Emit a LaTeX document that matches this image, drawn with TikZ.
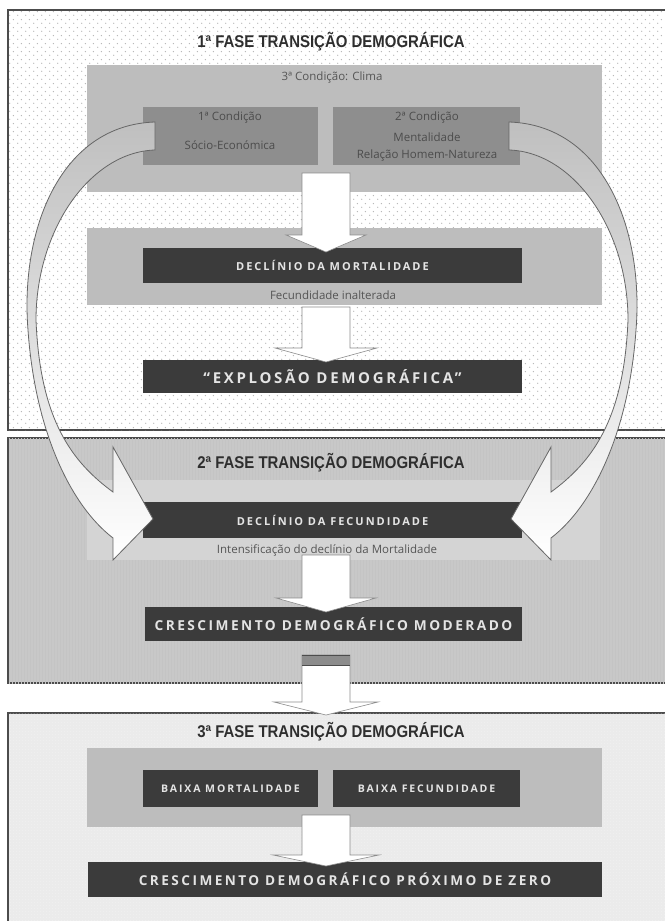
\documentclass[tikz,border=0pt]{standalone}
\usepackage{fontspec}
\setmainfont{Open Sans}
\newfontfamily\titlefont[FakeStretch=0.88]{Liberation Sans}
\newfontfamily\barfont[LetterSpace=18]{Open Sans}
\usetikzlibrary{patterns,patterns.meta}
\definecolor{barcol}{HTML}{3B3B3B}
\definecolor{bartext}{HTML}{E4E4E4}
\definecolor{zonecol}{HTML}{BDBDBD}
\definecolor{condcol}{HTML}{8E8E8E}
\definecolor{notecol}{HTML}{555555}
\definecolor{titlecol}{HTML}{2E2E2E}
\definecolor{midpanel}{HTML}{C8C8C8}
\definecolor{midzone}{HTML}{D4D4D4}
\definecolor{lowpanel}{HTML}{EBEBEB}
\tikzdeclarepattern{
  name=sparsedots,
  type=uncolored,
  bounding box={(0pt,0pt) and (8pt,8pt)},
  tile size={(8pt,8pt)},
  code={\fill (2pt,2pt) circle (0.75pt); \fill (6pt,6pt) circle (0.75pt);}
}
\tikzdeclarepattern{
  name=finedots,
  type=uncolored,
  bounding box={(0pt,0pt) and (3pt,3pt)},
  tile size={(3pt,3pt)},
  code={\fill (1.5pt,1.5pt) circle (0.5pt);}
}
\tikzset{
  panel/.style={draw=black!70, line width=1.5pt},
  zone/.style={fill=zonecol, inner sep=0},
  condbox/.style={fill=condcol, inner sep=0},
  darkbar/.style={fill=barcol, text=bartext, inner sep=0},
  note/.style={text=notecol, font=\fontsize{11.5}{13}\selectfont},
  condtext/.style={text=black!70, font=\fontsize{11.5}{13}\selectfont},
  phase/.style={text=titlecol, font=\titlefont\bfseries\fontsize{17}{19}\selectfont},
  blockarr/.style={fill=white, draw=black!45, line width=0.6pt},
  bendarr/.style={draw=black!60, line width=0.8pt, top color=black!25, middle color=white, bottom color=white}
}
\begin{document}
\begin{tikzpicture}[x=1pt,y=-1pt]
    \newcommand{\blockarrow}[4]{% top, wings, tip, half width of head
      \draw[blockarr] (302,#1) -- (350,#1) -- (350,#2) -- (326+#4,#2) -- (326,#3)
        -- (326-#4,#2) -- (302,#2) -- cycle;}
    \newcommand{\bendarrow}{%
      \draw[bendarr] (155,122) .. controls (60,125) and (20,230) .. (28,330)
        .. controls (35,430) and (70,505) .. (113,538) -- (113,560) -- (153,519)
        -- (113,447) -- (113,492) .. controls (72,462) and (40,420) .. (36,320)
        .. controls (36,230) and (90,152) .. (155,150) -- cycle;}
    \useasboundingbox[fill=white] (0,0) rectangle (664,921);

    % 1a fase
    \draw[panel, fill=white, postaction={pattern=sparsedots, pattern color=black!30}] (8,10) rectangle (672,430);
    \node[phase] (title1) at (331,42) {1ª FASE TRANSIÇÃO DEMOGRÁFICA};
    \node[zone, minimum width=515pt, minimum height=127pt] (clima) at (344.5,128.5) {};
    \node[note] (climatext) at (332,78) {3ª Condição: Clima};
    \node[condbox, minimum width=175pt, minimum height=58pt] (cond1) at (230.5,136) {};
    \node[condbox, minimum width=187pt, minimum height=58pt] (cond2) at (426.5,136) {};
    \node[condtext] at (230,118) {1ª Condição};
    \node[condtext] at (230,145) {Sócio-Económica};
    \node[condtext] at (427,118) {2ª Condição};
    \node[condtext] at (427,137) {Mentalidade};
    \node[condtext] at (427,156) {Relação Homem-Natureza};
    \node[zone, minimum width=515pt, minimum height=77pt] (mortzone) at (344.5,266.5) {};
    \node[darkbar, minimum width=379pt, minimum height=35pt, font=\barfont\bfseries\fontsize{11}{13}\selectfont] (mortbar) at (332.5,265.5) {DECLÍNIO DA MORTALIDADE};
    \node[note] (inalterada) at (333,295) {Fecundidade inalterada};
    \node[darkbar, minimum width=379pt, minimum height=33pt, font=\barfont\bfseries\fontsize{15}{17}\selectfont] (explosao) at (332.5,376.5) {“EXPLOSÃO DEMOGRÁFICA”};
    \blockarrow{173}{235}{252}{40}
    \blockarrow{307}{348}{362}{51}

    % 2a fase
    \draw[panel, fill=midpanel, postaction={pattern=vertical lines, pattern color=black!23}] (8,438) rectangle (672,683);
    \node[phase] (title2) at (331,463) {2ª FASE TRANSIÇÃO DEMOGRÁFICA};
    \node[fill=midzone, inner sep=0, minimum width=513pt, minimum height=80pt] (fecundzone) at (343.5,520) {};
    \node[darkbar, minimum width=379pt, minimum height=36pt, font=\barfont\bfseries\fontsize{11}{13}\selectfont] (fecundbar) at (332.5,520) {DECLÍNIO DA FECUNDIDADE};
    \node[note] (intens) at (327,550) {Intensificação do declínio da Mortalidade};
    \node[darkbar, minimum width=377pt, minimum height=34pt, font=\barfont\bfseries\fontsize{13.7}{16}\selectfont] (moderado) at (333.5,624) {CRESCIMENTO DEMOGRÁFICO MODERADO};
    \blockarrow{555}{598}{612}{50}

    % 3a fase
    \draw[panel, fill=lowpanel, postaction={pattern=finedots, pattern color=white}] (8,713) rectangle (672,930);
    \node[phase] (title3) at (331,732) {3ª FASE TRANSIÇÃO DEMOGRÁFICA};
    \node[zone, minimum width=515pt, minimum height=79pt] (baixazone) at (344.5,787.5) {};
    \node[darkbar, minimum width=175pt, minimum height=37pt, font=\barfont\bfseries\fontsize{10.5}{12}\selectfont] (baixamort) at (230.5,788.5) {BAIXA MORTALIDADE};
    \node[darkbar, minimum width=187pt, minimum height=37pt, font=\barfont\bfseries\fontsize{10.5}{12}\selectfont] (baixafec) at (426.5,788.5) {BAIXA FECUNDIDADE};
    \node[darkbar, minimum width=514pt, minimum height=35pt, font=\barfont\bfseries\fontsize{13.6}{16}\selectfont] (zero) at (345,879.5) {CRESCIMENTO DEMOGRÁFICO PRÓXIMO DE ZERO};
    \blockarrow{815}{855}{866}{53}

    % seta entre 2a e 3a fase
    \blockarrow{655}{702}{715}{52}
    \fill[black!45] (302,655) rectangle (350,665);
    \draw[black!70, line width=1pt] (302,655) -- (350,655) (302,665) -- (350,665);

    % setas curvas
    \bendarrow
    \begin{scope}[xshift=664pt, xscale=-1]
      \bendarrow
    \end{scope}
\end{tikzpicture}
\end{document}
